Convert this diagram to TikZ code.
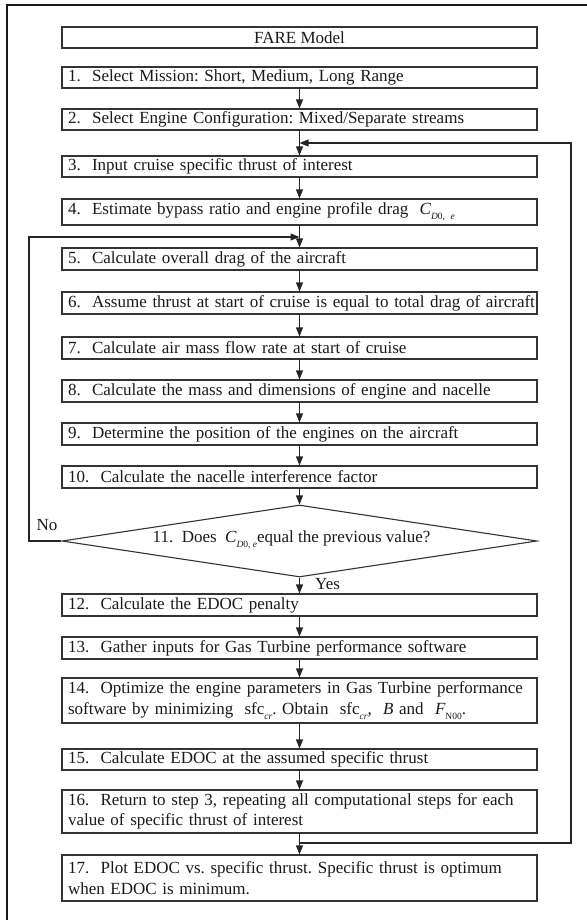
\documentclass[tikz,border=0pt]{standalone}
\usepackage{fontspec}
\setmainfont{Liberation Serif}
\usetikzlibrary{arrows.meta,shapes.geometric}
\newcommand\subs[1]{\raisebox{-0.3em}{\fontsize{9.5}{10}\selectfont #1}}
\newcommand\cde{{\itshape C}\subs{\itshape D\upshape 0, \itshape e}}
\begin{document}
\begin{tikzpicture}[x=1pt,y=-1pt,
  every node/.style={font=\fontsize{17}{20.5}\selectfont\frenchspacing, text=black!90},
  stepbox/.style={draw=black!80, line width=1.1pt, minimum width=475pt, text width=463pt,
    inner xsep=6pt, inner ysep=0pt, align=left},
  titlebox/.style={draw=black!80, line width=1.1pt, minimum width=475pt, inner sep=0pt, align=center},
  decision/.style={draw=black!80, line width=1.1pt, diamond, aspect=6.6, minimum width=475pt,
    minimum height=72pt, inner sep=0pt},
  arr/.style={draw=black!85, line width=1.1pt, -{Triangle[length=9pt,width=7pt]}},
]
\useasboundingbox (0,0) rectangle (586,920);
% outer frame (right and bottom sides lie outside the picture)
\draw[black!90, line width=1.8pt] (7,930) -- (7,5) -- (600,5);

\node[titlebox, minimum height=21pt] (fare) at (299.5,37.5) {FARE Model};
\node[stepbox, minimum height=21pt] (b1) at (299.5,77.5) {1.\ \ Select Mission: Short, Medium, Long Range};
\node[stepbox, minimum height=21pt] (b2) at (299.5,119.5) {2.\ \ Select Engine Configuration: Mixed/Separate streams};
\node[stepbox, minimum height=21pt] (b3) at (299.5,166.5) {3.\ \ Input cruise specific thrust of interest};
\node[stepbox, minimum height=26pt] (b4) at (299.5,212) {4.\ \ Estimate bypass ratio and engine profile drag \ \cde};
\node[stepbox, minimum height=22pt] (b5) at (299.5,259) {5.\ \ Calculate overall drag of the aircraft};
\node[stepbox, minimum height=22pt] (b6) at (299.5,303) {\mbox{6.\ \ Assume thrust at start of cruise is equal to total drag of aircraft}};
\node[stepbox, minimum height=22pt] (b7) at (299.5,348) {7.\ \ Calculate air mass flow rate at start of cruise};
\node[stepbox, minimum height=22pt] (b8) at (299.5,391) {8.\ \ Calculate the mass and dimensions of engine and nacelle};
\node[stepbox, minimum height=22pt] (b9) at (299.5,434) {9.\ \ Determine the position of the engines on the aircraft};
\node[stepbox, minimum height=22pt] (b10) at (299.5,477) {10.\ \ Calculate the nacelle interference factor};
\node[decision] (d11) at (299.5,541) {};
\node[inner sep=0pt] (t11) at ([xshift=-8pt,yshift=1pt]d11.center) {11.\ \ Does \ \cde equal the previous value?};
\node[stepbox, minimum height=22pt] (b12) at (299.5,605) {12.\ \ Calculate the EDOC penalty};
\node[stepbox, minimum height=22pt] (b13) at (299.5,648) {13.\ \ Gather inputs for Gas Turbine performance software};
\node[stepbox, minimum height=45pt] (b14) at (299.5,700.5) {\mbox{14.\ \ Optimize the engine parameters in Gas Turbine performance}\\
  software by minimizing \ sfc\subs{\itshape cr}. Obtain \ sfc\subs{\itshape cr}, \ {\itshape B} and \ {\itshape F}\subs{N00}.};
\node[stepbox, minimum height=21pt] (b15) at (299.5,759.5) {15.\ \ Calculate EDOC at the assumed specific thrust};
\node[stepbox, minimum height=43pt] (b16) at (299.5,811.5) {\mbox{16.\ \ Return to step 3, repeating all computational steps for each}\\
  value of specific thrust of interest};
\node[stepbox, minimum height=46pt] (b17) at (299.5,878) {\mbox{17.\ \ Plot EDOC vs. specific thrust. Specific thrust is optimum}\\
  when EDOC is minimum.};

\node[inner sep=0pt] (no) at (47,525) {No};
\node[inner sep=0pt, anchor=west] (yes) at (315,584) {Yes};

\draw[arr] (b1) -- (b2);
\draw[arr] (b2) -- (b3);
\draw[arr] (b3) -- (b4);
\draw[arr] (b4) -- (b5);
\draw[arr] (b5) -- (b6);
\draw[arr] (b6) -- (b7);
\draw[arr] (b7) -- (b8);
\draw[arr] (b8) -- (b9);
\draw[arr] (b9) -- (b10);
\draw[arr] (b10) -- (d11.north);
\draw[arr] (d11.south) -- (b12);
\draw[arr] (b12) -- (b13);
\draw[arr] (b13) -- (b14);
\draw[arr] (b14) -- (b15);
\draw[arr] (b15) -- (b16);
\draw[arr] (b16) -- (b17);

% loop back to step 3
\coordinate (j1) at (299.5,843);
\coordinate (r1) at (571,843);
\coordinate (r2) at (571,143);
\coordinate (j2) at (299.5,143);
\draw[arr] (j1) -- (r1) -- (r2) -- (j2);

% loop back to step 5
\coordinate (l1) at (29,541);
\coordinate (l2) at (29,237);
\coordinate (j3) at (299.5,237);
\draw[arr] (d11.west) -- (l1) -- (l2) -- (j3);
\end{tikzpicture}
\end{document}
